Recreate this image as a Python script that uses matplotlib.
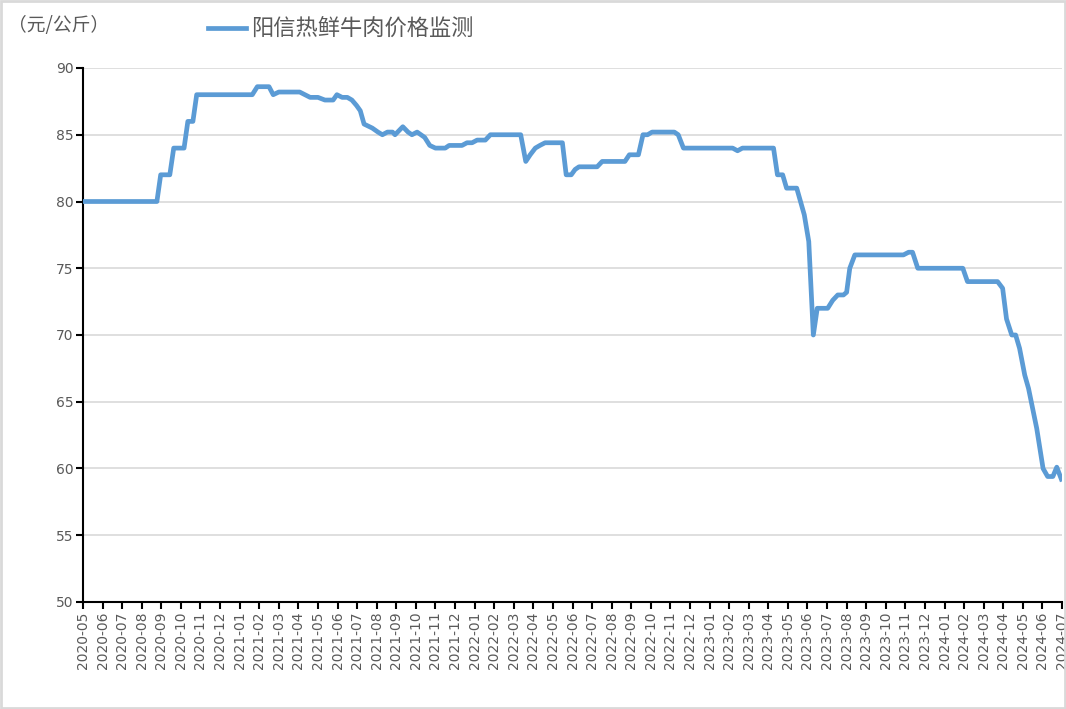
import matplotlib
matplotlib.use("Agg")
import matplotlib.pyplot as plt
from matplotlib.patches import Rectangle
import calendar

plt.rcParams['font.family'] = ['Noto Sans CJK SC', 'DejaVu Sans']

# ---- data ----
dates = [
    "2020-05-01", "2020-08-25", "2020-08-31", "2020-09-14", "2020-09-20", "2020-10-06",
    "2020-10-12", "2020-10-20", "2020-10-26", "2021-01-21", "2021-01-29", "2021-02-15",
    "2021-02-21", "2021-03-01", "2021-04-03", "2021-04-19", "2021-05-01", "2021-05-12",
    "2021-05-25", "2021-05-31", "2021-06-08", "2021-06-16", "2021-06-23", "2021-06-30",
    "2021-07-06", "2021-07-12", "2021-07-25", "2021-08-03", "2021-08-10", "2021-08-18",
    "2021-08-26", "2021-08-30", "2021-09-07", "2021-09-11", "2021-09-19", "2021-09-25",
    "2021-10-03", "2021-10-09", "2021-10-15", "2021-10-23", "2021-11-01", "2021-11-16",
    "2021-11-22", "2021-12-12", "2021-12-20", "2021-12-28", "2022-01-05", "2022-01-18",
    "2022-01-26", "2022-03-12", "2022-03-20", "2022-03-27", "2022-04-04", "2022-04-11",
    "2022-04-19", "2022-05-16", "2022-05-22", "2022-05-30", "2022-06-05", "2022-06-11",
    "2022-07-09", "2022-07-17", "2022-08-22", "2022-08-29", "2022-09-12", "2022-09-19",
    "2022-09-26", "2022-10-03", "2022-11-07", "2022-11-13", "2022-11-21", "2023-02-06",
    "2023-02-13", "2023-02-20", "2023-04-09", "2023-04-15", "2023-04-23", "2023-04-29",
    "2023-05-15", "2023-05-21", "2023-05-27", "2023-06-03", "2023-06-10", "2023-06-16",
    "2023-07-02", "2023-07-10", "2023-07-18", "2023-07-27", "2023-08-01", "2023-08-06",
    "2023-08-14", "2023-10-29", "2023-11-06", "2023-11-12", "2023-11-20", "2024-01-30",
    "2024-02-06", "2024-03-23", "2024-03-31", "2024-04-06", "2024-04-14", "2024-04-20",
    "2024-04-26", "2024-05-04", "2024-05-10", "2024-05-23", "2024-06-02", "2024-06-09",
    "2024-06-17", "2024-06-23", "2024-06-30",
]
prices = [
    80.0, 80.0, 82.0, 82.0, 84.0, 84.0,
    86.0, 86.0, 88.0, 88.0, 88.6, 88.6,
    88.0, 88.2, 88.2, 87.8, 87.8, 87.6,
    87.6, 88.0, 87.8, 87.8, 87.6, 87.2,
    86.8, 85.8, 85.5, 85.2, 85.0, 85.2,
    85.2, 85.0, 85.4, 85.6, 85.2, 85.0,
    85.2, 85.0, 84.8, 84.2, 84.0, 84.0,
    84.2, 84.2, 84.4, 84.4, 84.6, 84.6,
    85.0, 85.0, 83.0, 83.5, 84.0, 84.2,
    84.4, 84.4, 82.0, 82.0, 82.4, 82.6,
    82.6, 83.0, 83.0, 83.5, 83.5, 85.0,
    85.0, 85.2, 85.2, 85.0, 84.0, 84.0,
    83.8, 84.0, 84.0, 82.0, 82.0, 81.0,
    81.0, 80.0, 79.0, 77.0, 70.0, 72.0,
    72.0, 72.6, 73.0, 73.0, 73.2, 75.0,
    76.0, 76.0, 76.2, 76.2, 75.0, 75.0,
    74.0, 74.0, 73.5, 71.2, 70.0, 70.0,
    69.0, 67.0, 66.0, 63.0, 60.0, 59.4,
    59.4, 60.1, 59.2,
]
month_labels = [f"{y}-{m:02d}" for y in range(2020, 2025) for m in range(1, 13)
                if (y, m) >= (2020, 5) and (y, m) <= (2024, 7)]
series_name = "阳信热鲜牛肉价格监测"
unit_label = "（元/公斤）"


def month_pos(s):
    y, m, d = (int(p) for p in s.split("-"))
    base = (y - 2020) * 12 + (m - 5)
    return base + (d - 1) / calendar.monthrange(y, m)[1]


xs = [month_pos(d) for d in dates]

W, H = 1066, 709
fig = plt.figure(figsize=(W / 100, H / 100), dpi=100)
ax = fig.add_axes([83 / W, 1 - 602 / H, (1062 - 83) / W, (602 - 68) / H])

text_color = "#595959"
line_color = "#5B9BD5"

ax.plot(xs, prices, color=line_color, lw=3.4, solid_joinstyle="round", zorder=3)

ax.set_xlim(0, len(month_labels) - 1)
ax.set_ylim(50, 90)
ax.set_yticks(range(50, 91, 5))
ax.set_xticks(range(len(month_labels)))
ax.set_xticklabels(month_labels, rotation=90, fontsize=10, color=text_color,
                   family="DejaVu Sans")
for lab in ax.get_yticklabels():
    lab.set_fontsize(10)
    lab.set_color(text_color)
    lab.set_family("DejaVu Sans")

ax.grid(axis="y", color="#d9d9d9", lw=1.2, zorder=0)
ax.set_axisbelow(True)
for s in ("top", "right"):
    ax.spines[s].set_visible(False)
ax.spines["left"].set_color("black")
ax.spines["bottom"].set_color("black")
ax.spines["left"].set_linewidth(1.5)
ax.spines["bottom"].set_linewidth(1.5)
ax.tick_params(axis="both", direction="out", length=5, width=1.5, color="black", pad=2)

# unit label and legend
fig.text(8 / W, 1 - 25 / H, unit_label, fontsize=13.5, color=text_color,
         va="center", ha="left")
fig.add_artist(plt.Line2D([208 / W, 246 / W], [1 - 28 / H, 1 - 28 / H],
                          color=line_color, lw=3.4, transform=fig.transFigure))
fig.text(251 / W, 1 - 29 / H, series_name, fontsize=16, color=text_color,
         va="center", ha="left")

# figure border
fig.add_artist(Rectangle((0.001, 0.001), 0.998, 0.997, transform=fig.transFigure,
                         fill=False, edgecolor="#d9d9d9", lw=2))

fig.savefig("out.png", dpi=100)
